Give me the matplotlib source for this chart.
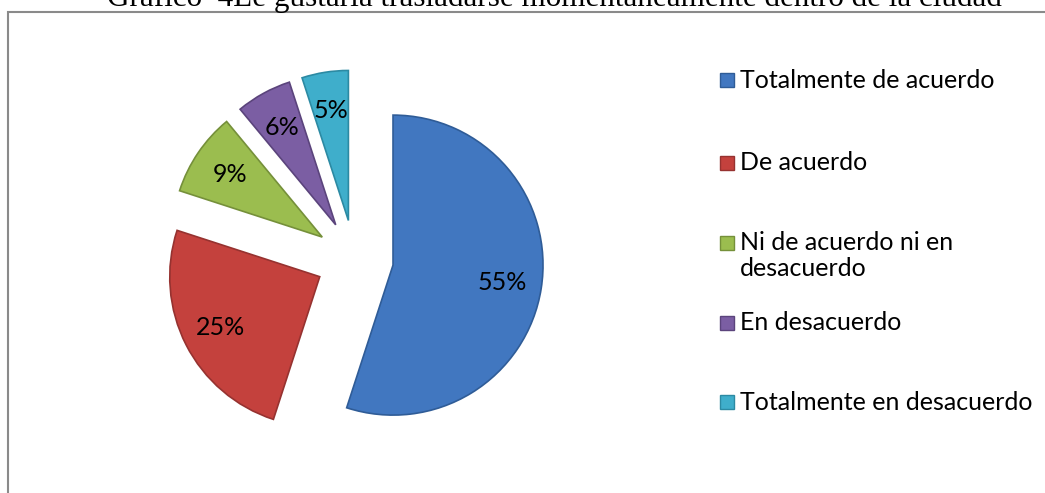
import matplotlib.pyplot as plt
from matplotlib.patches import Rectangle

categories = ['Totalmente de acuerdo', 'De acuerdo', 'Ni de acuerdo ni en\ndesacuerdo',
              'En desacuerdo', 'Totalmente en desacuerdo']
values = [55, 25, 9, 6, 5]
colors = ['#4177C0', '#C4413D', '#9BBD4F', '#7B5EA3', '#3FAECB']
edges = ['#2F5C97', '#963230', '#75903A', '#5B447C', '#2C8AA3']
title = 'Gráfico  4Le gustaría trasladarse momentáneamente dentro de la ciudad'

W, H = 1045, 493
fig = plt.figure(figsize=(W / 100, H / 100), dpi=100)

# chart frame (cut off on the right and bottom like the source image)
fig.patches.append(Rectangle((8 / W, -0.05), 1.1, (H - 12) / H + 0.05,
                             transform=fig.transFigure, fill=False,
                             edgecolor='#8a8a8a', linewidth=1.5, zorder=0))

fig.text(554 / W, (H - 6) / H, title, ha='center', va='baseline',
         fontsize=22.4, family='Liberation Serif')

# axes sized so that one data unit is 150 px
ax = fig.add_axes([54.5 / W, 9 / H, 600 / W, 450 / H])
wedges, texts, autotexts = ax.pie(
    values, colors=colors, startangle=90, counterclock=False,
    explode=[0.26] * len(values), autopct='%1.0f%%', pctdistance=0.74,
    wedgeprops=dict(linewidth=1.2),
    textprops=dict(fontsize=18, family='Lato', color='black'))
for w, ec in zip(wedges, edges):
    w.set_edgecolor(ec)
ax.set_xlim(-2, 2)
ax.set_ylim(-1.5, 1.5)
ax.set_aspect('equal')
ax.axis('off')

# legend, Excel style: marker sits on the first line of a wrapped label
legend_y = [80, 163, 243, 323, 402]  # pixel rows from top, first line
line_step = 26
for lab, col, ec, y in zip(categories, colors, edges, legend_y):
    fig.patches.append(Rectangle((720 / W, (H - y - 7) / H), 14 / W, 14 / H,
                                 transform=fig.transFigure, facecolor=col,
                                 edgecolor=ec, linewidth=1))
    for i, line in enumerate(lab.split('\n')):
        fig.text(740 / W, (H - y - i * line_step) / H, line, ha='left',
                 va='center', fontsize=18, family='Lato')

fig.savefig('out.png', dpi=100)
